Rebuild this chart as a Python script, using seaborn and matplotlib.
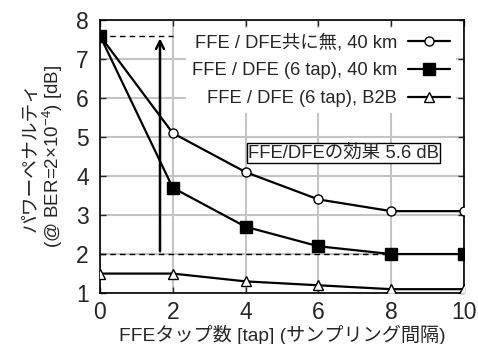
import matplotlib
matplotlib.use("Agg")
import matplotlib.pyplot as plt
import seaborn as sns
import pandas as pd

taps = [0, 2, 4, 6, 8, 10]
none_40km = [7.6, 5.1, 4.1, 3.4, 3.1, 3.1]
ffe_dfe_40km = [7.6, 3.7, 2.7, 2.2, 2.0, 2.0]
ffe_dfe_b2b = [1.5, 1.5, 1.3, 1.2, 1.1, 1.1]
labels = ["FFE / DFE共に無, 40 km", "FFE / DFE (6 tap), 40 km", "FFE / DFE (6 tap), B2B"]
x_ticks = [0, 2, 4, 6, 8, 10]
y_ticks = [1, 2, 3, 4, 5, 6, 7, 8]

sns.set_style("ticks")
plt.rcParams['font.family'] = ['Liberation Sans', 'Noto Sans CJK JP', 'DejaVu Sans']
plt.rcParams['mathtext.fontset'] = 'custom'
plt.rcParams['mathtext.rm'] = 'Liberation Sans'
plt.rcParams['mathtext.it'] = 'Liberation Sans'

df = pd.DataFrame({
    "tap": taps * 3,
    "pen": none_40km + ffe_dfe_40km + ffe_dfe_b2b,
    "series": [labels[0]] * 6 + [labels[1]] * 6 + [labels[2]] * 6,
})

fig = plt.figure(figsize=(4.78, 3.44), dpi=100)
ax = fig.add_axes([0.209, 0.148, 0.762, 0.794])

ax.grid(True, color="#c4c4c4", linewidth=1.5)
ax.set_axisbelow(True)

sns.lineplot(data=df, x="tap", y="pen", hue="series", style="series",
             palette=["black"] * 3, markers=["o", "s", "^"], dashes=False,
             markersize=7, linewidth=1.6, ax=ax, legend=False, zorder=3)
for line, fc, ms in zip(ax.lines, ["white", "black", "white"], [6.5, 8.5, 6.5]):
    line.set_markerfacecolor(fc)
    line.set_markeredgecolor("black")
    line.set_markeredgewidth(1.0)
    line.set_markersize(ms)

# dashed reference lines
ax.plot([0, 2], [7.6, 7.6], ls=(0, (4, 3)), color="black", lw=1.0, zorder=2)
ax.plot([0, 8], [2.0, 2.0], ls=(0, (4, 3)), color="black", lw=1.0, zorder=2)
ax.annotate("", xy=(1.65, 7.6), xytext=(1.65, 2.0),
            arrowprops=dict(arrowstyle="->", color="black", lw=1.8, mutation_scale=14),
            zorder=4)

ax.text(4.06, 4.59, "FFE/DFEの効果 5.6 dB", fontsize=13.3, va="center", ha="left",
        bbox=dict(boxstyle="square,pad=0.06", fc="white", ec="black", lw=1.0), zorder=5)

handles = [ax.lines[0], ax.lines[1], ax.lines[2]]
leg = ax.legend(handles, labels, loc="upper right", markerfirst=False, frameon=True,
                fontsize=13.2, handlelength=2.3, borderaxespad=0.45, labelspacing=0.6,
                handletextpad=0.6, borderpad=0.3)
leg.get_frame().set_edgecolor("none")
leg.get_frame().set_facecolor("white")
leg.get_frame().set_alpha(1.0)

ax.set_xlim(0, 10)
ax.set_ylim(1, 8)
ax.set_xticks(x_ticks)
ax.set_yticks(y_ticks)
ax.tick_params(direction="in", length=4, labelsize=16.5, top=True, right=True, width=1.0)
ax.tick_params(axis="x", pad=6)
ax.tick_params(axis="y", pad=8)
for s in ax.spines.values():
    s.set_color("black")
    s.set_linewidth(1.2)

ax.set_xlabel("FFEタップ数 [tap] (サンプリング間隔)", fontsize=13.8, labelpad=0)
ax.set_ylabel("パワーペナルティ\n(@ BER=2×10$^{-4}$) [dB]", fontsize=13.5, labelpad=8,
              linespacing=1.05)

fig.savefig("out.png", dpi=100)
